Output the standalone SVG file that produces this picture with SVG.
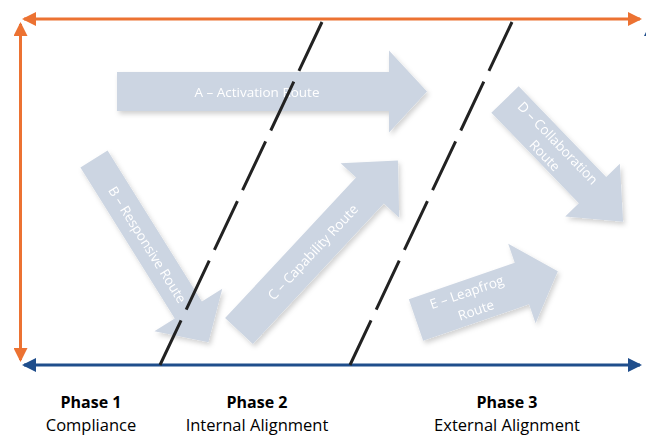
<svg xmlns="http://www.w3.org/2000/svg" width="646" height="435" viewBox="0 0 646 435">
  <style>
    .route { fill: #ccd5e2; }
    .rlabel { fill: #ffffff; font-family: "Open Sans", "Liberation Sans", sans-serif; font-size: 13.5px; text-anchor: middle; }
    .phase { fill: #000000; font-family: "Open Sans", "Liberation Sans", sans-serif; font-size: 16px; font-weight: bold; text-anchor: middle; }
    .phasesub { fill: #000000; font-family: "Open Sans", "Liberation Sans", sans-serif; font-size: 16.5px; text-anchor: middle; }
    .axis-o { stroke: #ec7232; stroke-width: 3; fill: none; }
    .axis-b { stroke: #1f4e8c; stroke-width: 3; fill: none; }
    .divider { stroke: #222222; stroke-width: 3; stroke-dasharray: 54 12; fill: none; }
  </style>
  <defs>
    <marker id="headO" markerUnits="userSpaceOnUse" markerWidth="14" markerHeight="14" refX="12" refY="7" orient="auto-start-reverse">
      <path d="M0,0 L14,7 L0,14 Z" fill="#ec7232"/>
    </marker>
    <marker id="headB" markerUnits="userSpaceOnUse" markerWidth="14" markerHeight="14" refX="12" refY="7" orient="auto-start-reverse">
      <path d="M0,0 L14,7 L0,14 Z" fill="#1f4e8c"/>
    </marker>
    <filter id="soft" x="-20%" y="-20%" width="140%" height="140%">
      <feDropShadow dx="2" dy="3" stdDeviation="2.5" flood-color="#000000" flood-opacity="0.18"/>
    </filter>
  </defs>

  <rect width="646" height="435" fill="#ffffff"/>

  <!-- route arrows -->
  <g id="route-a" filter="url(#soft)">
    <g transform="translate(117,91.5)">
      <path class="route" d="M0,-19.5 L272,-19.5 L272,-41 L310,0 L272,41 L272,19.5 L0,19.5 Z"/>
      <text class="rlabel" x="140" y="5">A – Activation Route</text>
    </g>
  </g>

  <g id="route-b" filter="url(#soft)">
    <g transform="translate(94,159) rotate(58)">
      <path class="route" d="M0,-16 L178,-16 L178,-40 L216,0 L178,40 L178,16 L0,16 Z"/>
      <text class="rlabel" x="101" y="5">B – Responsive Route</text>
    </g>
  </g>

  <g id="route-c" filter="url(#soft)">
    <g transform="translate(239,331) rotate(-47)">
      <path class="route" d="M0,-19 L192,-19 L192,-40 L233,0 L192,40 L192,19 L0,19 Z"/>
      <text class="rlabel" x="108" y="5">C – Capability Route</text>
    </g>
  </g>

  <g id="route-d" filter="url(#soft)">
    <g transform="translate(505,99.5) rotate(46)">
      <path class="route" d="M0,-19 L126,-19 L126,-38 L170,0 L126,38 L126,19 L0,19 Z"/>
      <text class="rlabel" x="68" y="-3">D – Collaboration</text>
      <text class="rlabel" x="68" y="15">Route</text>
    </g>
  </g>

  <g id="route-e" filter="url(#soft)">
    <g transform="translate(416,320) rotate(-19)">
      <path class="route" d="M0,-22 L112,-22 L112,-42 L150,0 L112,42 L112,22 L0,22 Z"/>
      <text class="rlabel" x="57" y="-5">E – Leapfrog</text>
      <text class="rlabel" x="60" y="15">Route</text>
    </g>
  </g>

  <!-- axes and phase dividers -->
  <g id="connectors">
    <line class="axis-o" x1="24" y1="19" x2="640" y2="19" marker-start="url(#headO)" marker-end="url(#headO)"/>
    <line class="axis-o" x1="20.5" y1="24" x2="20.5" y2="360" marker-start="url(#headO)" marker-end="url(#headO)"/>
    <line class="axis-b" x1="24" y1="365" x2="640" y2="365" marker-start="url(#headB)" marker-end="url(#headB)"/>
    <line class="axis-b" x1="651" y1="24" x2="651" y2="360" marker-start="url(#headB)"/>
    <line class="divider" x1="322" y1="22" x2="160" y2="365"/>
    <line class="divider" x1="512" y1="22" x2="350" y2="365"/>
  </g>

  <!-- phase captions -->
  <g id="phase-1">
    <text class="phase" x="91" y="408">Phase 1</text>
    <text class="phasesub" x="91" y="431">Compliance</text>
  </g>
  <g id="phase-2">
    <text class="phase" x="257" y="408">Phase 2</text>
    <text class="phasesub" x="257" y="431">Internal Alignment</text>
  </g>
  <g id="phase-3">
    <text class="phase" x="507" y="408">Phase 3</text>
    <text class="phasesub" x="507" y="431">External Alignment</text>
  </g>
</svg>
